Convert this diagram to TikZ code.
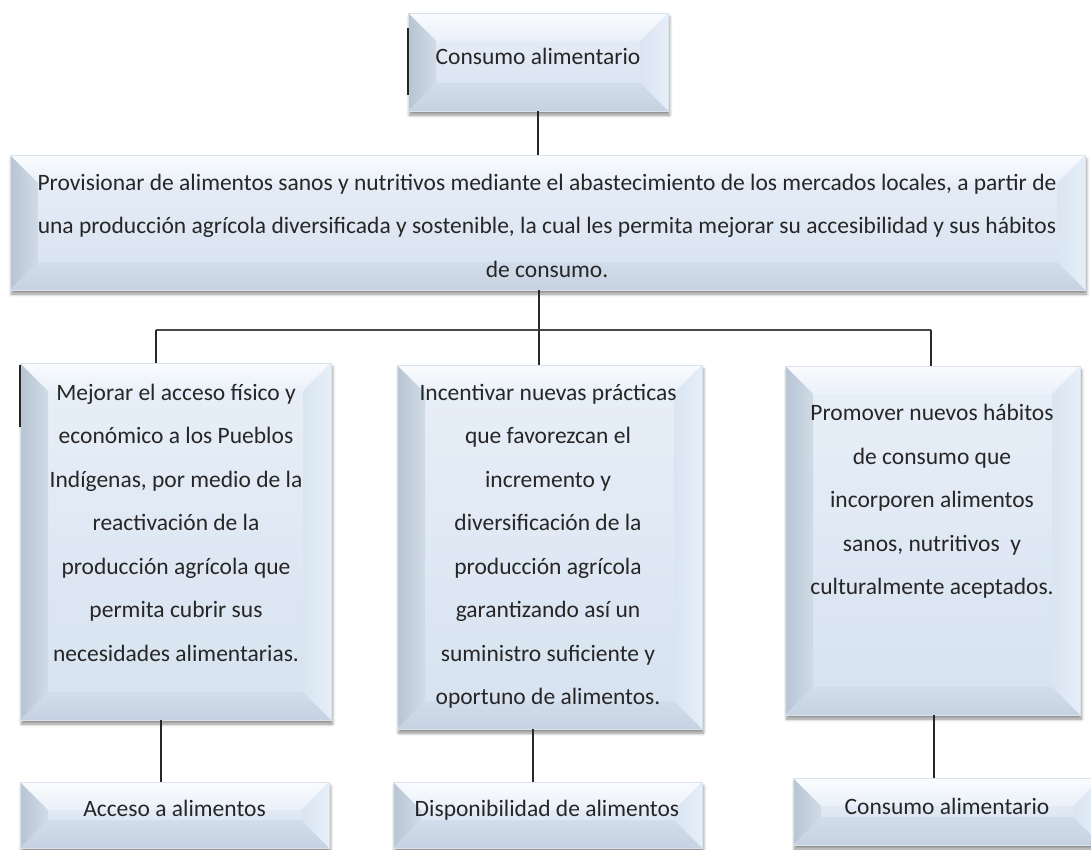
\documentclass[tikz,border=0pt]{standalone}
\usepackage{fontspec}
\setmainfont{Carlito}
\usetikzlibrary{shadows.blur}
\definecolor{facetop}{RGB}{232,239,248}
\definecolor{facebot}{RGB}{214,226,240}
\definecolor{bordc}{RGB}{218,226,236}
\definecolor{bevtopa}{RGB}{250,251,254}
\definecolor{bevtopb}{RGB}{234,241,249}
\definecolor{bevla}{RGB}{184,196,210}
\definecolor{bevlb}{RGB}{208,219,231}
\definecolor{bevra}{RGB}{218,229,242}
\definecolor{bevrb}{RGB}{230,238,248}
\definecolor{bevba}{RGB}{210,221,235}
\definecolor{bevbb}{RGB}{198,210,225}
\definecolor{linec}{RGB}{40,40,40}
\definecolor{txtc}{RGB}{38,38,38}
\newcommand\bvsz{28pt}
\tikzset{
  bevbox/.style={rectangle, inner sep=0pt, draw=bordc, line width=0.6pt,
    top color=facetop, bottom color=facebot,
    blur shadow={shadow xshift=1.5pt, shadow yshift=-4pt, shadow opacity=45, shadow blur steps=6, shadow blur radius=3pt},
    path picture={
      \coordinate (pnw) at (path picture bounding box.north west);
      \coordinate (pne) at (path picture bounding box.north east);
      \coordinate (psw) at (path picture bounding box.south west);
      \coordinate (pse) at (path picture bounding box.south east);
      \coordinate (inw) at ([shift={(\bvsz,-\bvsz)}]pnw);
      \coordinate (ine) at ([shift={(-\bvsz,-\bvsz)}]pne);
      \coordinate (isw) at ([shift={(\bvsz,\bvsz)}]psw);
      \coordinate (ise) at ([shift={(-\bvsz,\bvsz)}]pse);
      \shade[top color=bevtopa, bottom color=bevtopb] (pnw) -- (pne) -- (ine) -- (inw) -- cycle;
      \shade[left color=bevla, right color=bevlb] (pnw) -- (inw) -- (isw) -- (psw) -- cycle;
      \shade[left color=bevra, right color=bevrb] (pne) -- (ine) -- (ise) -- (pse) -- cycle;
      \shade[top color=bevba, bottom color=bevbb] (psw) -- (isw) -- (ise) -- (pse) -- cycle;
    }},
  txt/.style={inner sep=0pt, align=center, text=txtc,
    font=\fontsize{23.5pt}{43.5pt}\selectfont,
    execute at begin node=\strut, execute at end node=\strut},
  conn/.style={draw=linec, line width=1.2pt},
  edgebar/.style={draw=black!85, line width=2.2pt}
}
\begin{document}
\begin{tikzpicture}[x=1pt,y=-1pt]
\useasboundingbox (0,0) rectangle (1091,849);
% boxes
\node[bevbox, minimum width=260pt, minimum height=98pt] (b0) at (538,62) {};
\node[bevbox, minimum width=1075pt, minimum height=135pt] (b1) at (547.5,222.5) {};
\node[bevbox, minimum width=311pt, minimum height=357pt] (b3a) at (175.5,541.5) {};
\node[bevbox, minimum width=305pt, minimum height=364pt] (b3b) at (549.5,547) {};
\node[bevbox, minimum width=295pt, minimum height=349pt] (b3c) at (932.5,540.5) {};
\node[bevbox, minimum width=309pt, minimum height=66pt] (b4a) at (174.5,815) {};
\node[bevbox, minimum width=309pt, minimum height=66pt] (b4b) at (547.5,815) {};
\node[bevbox, minimum width=308pt, minimum height=67pt] (b4c) at (947,811.5) {};
% texts
\node[txt] (t0) at (538,56) {Consumo alimentario};
\node[txt] (t1) at (547,232) {Provisionar de alimentos sanos y nutritivos mediante el abastecimiento de los mercados locales, a partir de\\una producción agrícola diversificada y sostenible, la cual les permita mejorar su accesibilidad y sus hábitos\\de consumo.};
\node[txt] (t3a) at (176,529) {Mejorar el acceso físico y\\económico a los Pueblos\\Indígenas, por medio de la\\reactivación de la\\producción agrícola que\\permita cubrir sus\\necesidades alimentarias.};
\node[txt] (t3b) at (548,551) {Incentivar nuevas prácticas\\que favorezcan el\\incremento y\\diversificación de la\\producción agrícola\\garantizando así un\\suministro suficiente y\\oportuno de alimentos.};
\node[txt] (t3c) at (932,506) {Promover nuevos hábitos\\de consumo que\\incorporen alimentos\\sanos, nutritivos~ y\\culturalmente aceptados.};
\node[txt] (t4a) at (174.5,807.5) {Acceso a alimentos};
\node[txt] (t4b) at (547,807.5) {Disponibilidad de alimentos};
\node[txt] (t4c) at (947,805.5) {Consumo alimentario};
% left edge bars
\draw[edgebar] ([yshift=-15pt]b0.north west) -- ([yshift=-82pt]b0.north west);
\draw[edgebar] ([yshift=-2pt]b3a.north west) -- ([yshift=-64pt]b3a.north west);
% connectors
\coordinate (J) at (539,330);
\coordinate (L) at (156,330);
\coordinate (R) at (931,330);
\coordinate (xa) at (161,0);
\coordinate (xb) at (533,0);
\coordinate (xc) at (934,0);
\draw[conn] (b0.south) -- (b0.south |- b1.north);
\draw[conn] (J |- b1.south) -- (J);
\draw[draw=linec!85, line width=2.2pt] (L) -- (R);
\draw[conn] (L) -- (L |- b3a.north);
\draw[conn] (J) -- (J |- b3b.north);
\draw[conn] (R) -- (R |- b3c.north);
\draw[conn] (xa |- b3a.south) -- (xa |- b4a.north);
\draw[conn] (xb |- b3b.south) -- (xb |- b4b.north);
\draw[conn] (xc |- b3c.south) -- (xc |- b4c.north);
\end{tikzpicture}
\end{document}
